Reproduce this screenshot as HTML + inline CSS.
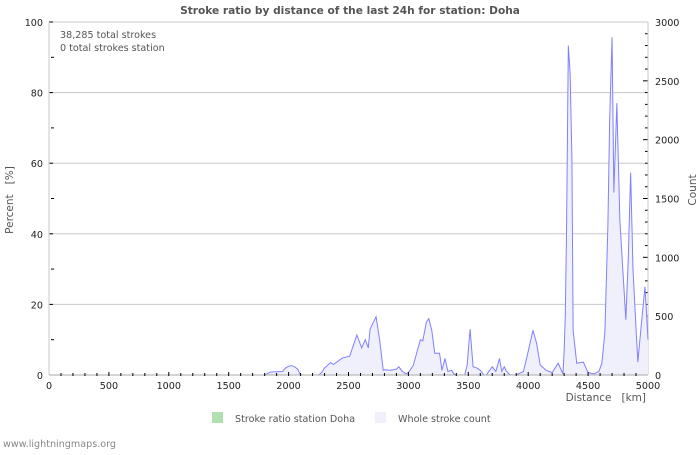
<!DOCTYPE html>
<html><head><meta charset="utf-8"><style>
body{margin:0;background:#fff;width:700px;height:450px;overflow:hidden}
svg text{font-family:"DejaVu Sans","Liberation Sans",sans-serif}
</style></head><body>
<svg id="chart" width="700" height="450"></svg>
<script>
const distances=[0,1800,1825,1850,1900,1950,1975,2000,2025,2050,2075,2100,2250,2275,2300,2350,2375,2450,2510,2570,2610,2640,2665,2680,2730,2760,2790,2800,2850,2900,2920,2950,2980,3000,3040,3100,3120,3150,3170,3195,3220,3260,3280,3305,3330,3360,3380,3400,3470,3490,3515,3540,3570,3600,3630,3650,3700,3730,3760,3780,3800,3820,3850,3900,3960,3990,4040,4070,4100,4150,4200,4250,4290,4300,4310,4320,4335,4350,4365,4375,4405,4460,4500,4550,4590,4615,4640,4665,4680,4700,4715,4740,4765,4790,4815,4835,4855,4875,4905,4915,4950,4975,5000];
const counts=[0,0,15,25,28,30,60,75,80,70,50,0,0,20,60,105,90,145,160,340,230,300,230,390,495,300,40,45,40,50,70,30,10,20,80,300,290,450,480,380,185,185,40,140,30,40,10,0,0,80,390,70,60,40,0,0,70,30,140,30,70,30,0,0,30,155,380,270,85,40,20,100,10,200,525,1230,2800,2560,1830,380,100,110,20,10,30,100,360,1260,2170,2870,1550,2310,1320,890,470,980,1720,890,300,110,490,750,300];
const ratioSeries=distances.map(()=>0);
const leftTicks=[0,20,40,60,80,100];
const rightTicks=[0,500,1000,1500,2000,2500,3000];
const xTicks=[0,500,1000,1500,2000,2500,3000,3500,4000,4500,5000];

const svg=document.getElementById('chart');
const NS='http://www.w3.org/2000/svg';
const X0=49,X1=648,Y0=375,Y1=22;
const xs=d=>X0+(d/5000)*(X1-X0);
const yl=p=>Y0-(p/100)*(Y0-Y1);
const yr=c=>Y0-(c/3000)*(Y0-Y1);
function mk(tag,attrs,text){const e=document.createElementNS(NS,tag);for(const k in attrs)e.setAttribute(k,attrs[k]);if(text!==undefined)e.textContent=text;svg.appendChild(e);return e;}

let t=mk('text',{x:350,y:14,'text-anchor':'middle','font-size':10.6,'font-weight':'bold',fill:'#555'},'Stroke ratio by distance of the last 24h for station: Doha');



leftTicks.forEach(v=>{
  const g=mk('line',{x1:X0,x2:X1,y1:yl(v),y2:yl(v),stroke:'#c8c8c8','stroke-width':1});
  
  
  const l=mk('text',{x:43,y:yl(v)+4,'text-anchor':'end','font-size':9.6,fill:'#222'},v);
  
  
  mk('line',{x1:X0,x2:X0+4,y1:yl(v),y2:yl(v),stroke:'#000'});
});
for(let v=10;v<100;v+=20){mk('line',{x1:X0+2,x2:X0+5,y1:yl(v),y2:yl(v),stroke:'#000'});}
rightTicks.forEach(v=>{
  const l=mk('text',{x:655,y:yr(v)+4,'font-size':9.6,fill:'#222'},v);
  
  
});
for(let v=100;v<3000;v+=100){mk('line',{x1:X1-(v%500?3:5),x2:X1,y1:yr(v),y2:yr(v),stroke:'#000'});}
mk('line',{x1:X0,x2:X0,y1:Y1,y2:Y0,stroke:'#c8c8c8'});
mk('line',{x1:X1,x2:X1,y1:Y1,y2:Y0,stroke:'#c8c8c8'});

let pts=distances.map((d,i)=>xs(d)+','+yr(counts[i])).join(' ');
const area=mk('polygon',{points:xs(0)+','+Y0+' '+pts+' '+xs(5000)+','+Y0,fill:'#f0f0fc',stroke:'none'});


const line=mk('polyline',{points:pts,fill:'none',stroke:'#8080ff','stroke-width':1});


const rl=mk('polyline',{points:distances.map((d,i)=>xs(d)+','+yl(ratioSeries[i])).join(' '),fill:'none',stroke:'#80c080','stroke-width':0});



mk('line',{x1:X0,x2:X1,y1:Y0,y2:Y0,stroke:'#aaa'});
for(let v=100;v<5000;v+=100){mk('line',{x1:xs(v),x2:xs(v),y1:Y0-(v%500?2:3),y2:Y0+1,stroke:'#000'});}
xTicks.forEach(v=>{
  const l=mk('text',{x:xs(v),y:389,'text-anchor':'middle','font-size':9.6,fill:'#222'},v);
  
  
});
t=mk('text',{x:646,y:401,'text-anchor':'end','font-size':10.5,fill:'#555'},'Distance   [km]');

t.style.whiteSpace='pre';
t=mk('text',{x:0,y:0,'text-anchor':'middle','font-size':10.5,fill:'#555',transform:'translate(13,200) rotate(-90)'},'Percent   [%]');
t.style.whiteSpace='pre';
t=mk('text',{x:0,y:0,'text-anchor':'middle','font-size':10.5,fill:'#555',transform:'translate(696,190) rotate(-90)'},'Count');


t=mk('text',{x:60,y:38,'font-size':9.6,fill:'#555'},'38,285 total strokes');

t=mk('text',{x:60,y:51,'font-size':9.6,fill:'#555'},'0 total strokes station');


let r=mk('rect',{x:212,y:412,width:11,height:11,fill:'#b0e0b0'});

t=mk('text',{x:235,y:422,'font-size':9.6,fill:'#555'},'Stroke ratio station Doha');

r=mk('rect',{x:375,y:412,width:11,height:11,fill:'#f0f0fc'});

t=mk('text',{x:398,y:422,'font-size':9.6,fill:'#555'},'Whole stroke count');

t=mk('text',{x:3,y:447,'font-size':9.6,fill:'#888'},'www.lightningmaps.org');

</script>
</body></html>
